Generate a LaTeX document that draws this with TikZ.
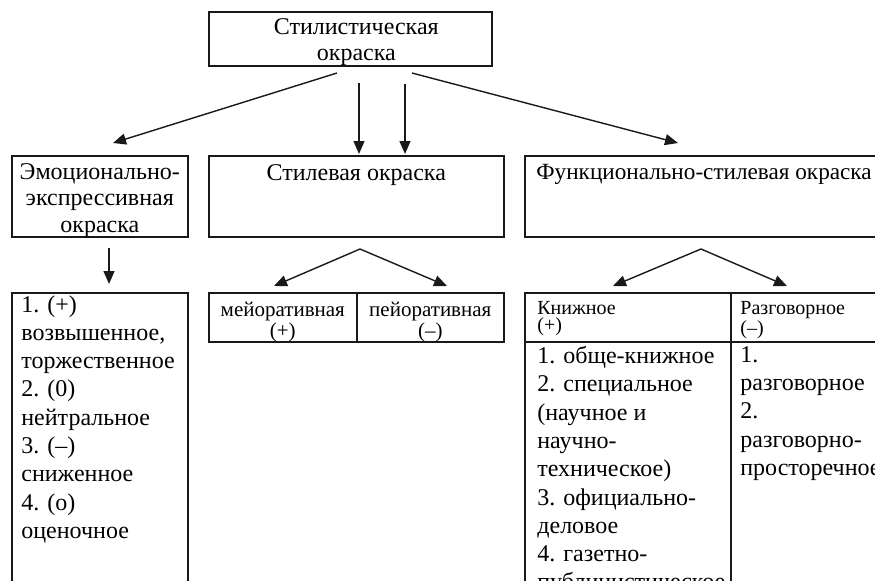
\documentclass[tikz,border=0pt]{standalone}
\usepackage{fontspec}
\setmainfont{Liberation Serif}
\usetikzlibrary{arrows.meta,positioning}

\begin{document}
\begin{tikzpicture}[x=0.5pt,y=-0.5pt]
  \tikzset{box/.style={draw=black!90,line width=0.8pt,inner sep=0pt,anchor=north west},
    arr/.style={draw=black!90,line width=0.7pt,-{Triangle[length=6.5pt,width=5.5pt]}},
    ctext/.style={inner sep=0pt,align=center,font=\fontsize{12}{13.3}\selectfont},
    ltext/.style={inner sep=0pt,align=left,font=\fontsize{12}{14.15}\selectfont},
    htext/.style={inner sep=0pt,align=left,font=\fontsize{10}{8.6}\selectfont}}
  \useasboundingbox (0,0) rectangle (875,580);
  \clip (0,0) rectangle (875,580);
  \node[box,minimum width=141.5pt,minimum height=27pt] (top) at (208,11) {};
  \node[box,minimum width=88pt,minimum height=40.5pt] (emo) at (11,155) {};
  \node[box,minimum width=147.5pt,minimum height=40.5pt] (stil) at (208,155) {};
  \node[box,minimum width=180pt,minimum height=40.5pt] (func) at (524,155) {};
  \node[box,minimum width=88pt,minimum height=150pt] (emoL) at (11,292) {};
  \node[box,minimum width=74pt,minimum height=24.5pt] (meio) at (208,292) {};
  \node[box,minimum width=73.5pt,minimum height=24.5pt] (peio) at (356,292) {};
  \node[box,minimum width=103pt,minimum height=24.5pt] (knH) at (524,292) {};
  \node[box,minimum width=77pt,minimum height=24.5pt] (rzH) at (730,292) {};
  \node[box,minimum width=103pt,minimum height=130pt] (knL) at (524,341) {};
  \node[box,minimum width=77pt,minimum height=130pt] (rzL) at (730,341) {};
  \node[ctext,below=3.5pt of top.north,xshift=3pt] (topT) {Стилистическая\\окраска};
  \node[ctext,below=4pt of emo.north] (emoT) {Эмоционально-\\экспрессивная\\окраска};
  \node[ctext,below=4.5pt of stil.north] (stilT) {Стилевая окраска};
  \node[ctext,font=\fontsize{11.6}{13}\selectfont,below right=4.5pt and 6pt of func.north west] (funcT)
    {Функционально-стилевая окраска};
  \node[ltext,below right=1.5pt and 5pt of emoL.north west] (emoLT)
    {1. (+)\\возвышенное,\\торжественное\\2. (0)\\нейтральное\\3. (–)\\сниженное\\4. (о)\\оценочное};
  \node[ctext,font=\fontsize{10.5}{9.2}\selectfont,below=5pt of meio.north] (meioT) {мейоративная\\(+)};
  \node[ctext,font=\fontsize{10.5}{9.2}\selectfont,below=5pt of peio.north] (peioT) {пейоративная\\(–)};
  \node[htext,below right=4.5pt and 6.5pt of knH.north west] (knHT) {Книжное\\(+)};
  \node[htext,below right=4.5pt and 5pt of rzH.north west] (rzHT) {Разговорное\\(–)};
  \node[ltext,below right=2.5pt and 6.5pt of knL.north west] (knLT)
    {1. обще-книжное\\2. специальное\\(научное и\\научно-\\техническое)\\3. официально-\\деловое\\4. газетно-\\публицистическое};
  \node[ltext,below right=2.5pt and 5pt of rzL.north west] (rzLT)
    {1.\\разговорное\\2.\\разговорно-\\просторечное};
  \coordinate (sL) at (337,73);  \coordinate (tL) at (113,143);
  \coordinate (sV1) at (359,83); \coordinate (tV1) at (359,154);
  \coordinate (sV2) at (405,84); \coordinate (tV2) at (405,154);
  \coordinate (sR) at (412,73);  \coordinate (tR) at (678,143);
  \coordinate (sE) at (109,248); \coordinate (tE) at (109,284);
  \coordinate (apS) at (360,249); \coordinate (tS1) at (274,286); \coordinate (tS2) at (447,286);
  \coordinate (apF) at (701,249); \coordinate (tF1) at (613,286); \coordinate (tF2) at (787,286);
  \draw[arr] (sL)--(tL);
  \draw[arr] (sV1)--(tV1);
  \draw[arr] (sV2)--(tV2);
  \draw[arr] (sR)--(tR);
  \draw[arr] (sE)--(tE);
  \draw[arr] (apS)--(tS1);
  \draw[arr] (apS)--(tS2);
  \draw[arr] (apF)--(tF1);
  \draw[arr] (apF)--(tF2);
\end{tikzpicture}
\end{document}
